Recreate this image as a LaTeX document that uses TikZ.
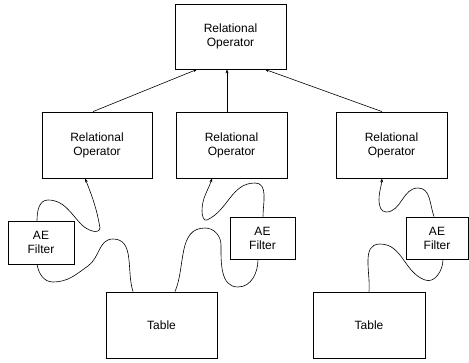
\documentclass[tikz,border=0pt]{standalone}
\usepackage{fontspec}
\setmainfont{Liberation Sans}
\usetikzlibrary{arrows.meta}
\begin{document}
\begin{tikzpicture}[x=1pt,y=-1pt,
  box/.style={draw,line width=0.8pt,inner sep=0pt,align=center,
    font=\fontsize{12}{14}\selectfont},
  link/.style={line width=0.6pt},
  feed/.style={link,-{Stealth[length=4pt,width=3pt]}}]
\useasboundingbox (0,0) rectangle (469,362);

% operator tree
\node[box,minimum width=111pt,minimum height=65pt] (top) at (230.5,36.5) {Relational\\Operator};
\node[box,minimum width=110pt,minimum height=66pt] (lro) at (97,145) {Relational\\Operator};
\node[box,minimum width=111pt,minimum height=66pt] (mro) at (231.5,145) {Relational\\Operator};
\node[box,minimum width=111pt,minimum height=66pt] (rro) at (391.5,145) {Relational\\Operator};

% filters
\node[box,minimum width=66pt,minimum height=43pt] (lae) at (41,242.5) {AE\\Filter};
\node[box,minimum width=65pt,minimum height=42pt] (mae) at (262.5,238) {AE\\Filter};
\node[box,minimum width=62pt,minimum height=42pt] (rae) at (437,238) {AE\\Filter};

% tables
\node[box,minimum width=111pt,minimum height=66pt] (lt) at (161.5,325) {Table};
\node[box,minimum width=112pt,minimum height=66pt] (rt) at (369,325) {Table};

% straight edges up to the root
\draw[feed] ([xshift=-4pt]lro.north) -- ([xshift=-33.5pt]top.south);
\draw[feed] ([xshift=-4.5pt]mro.north) -- ([xshift=-3.5pt]top.south);
\draw[feed] ([xshift=-9.5pt]rro.north) -- ([xshift=34.5pt]top.south);

% left branch: table -> filter -> operator
\draw[link] ([xshift=-28.5pt]lt.north) to[out=108,in=0] (113,239)
  to[out=180,in=35] (88,266) to[out=215,in=0] (53,282)
  to[out=180,in=-80] ([xshift=-4pt]lae.south);
\draw[feed] ([xshift=-4pt]lae.north) to[out=90,in=180] (48,200)
  to[out=0,in=135] (82,225) to[out=-45,in=-100] (100,228)
  to[out=100,in=-68] ([xshift=-12pt]lro.south);

% middle branch
\draw[link] ([xshift=13.5pt]lt.north) to[out=67,in=180] (205,228)
  to[out=0,in=90] (221,245) to[out=-90,in=180] (238,287)
  to[out=0,in=-90] ([xshift=-4.5pt]mae.south);
\draw[feed] ([xshift=0.5pt]mae.north) to[out=90,in=0] (255,183)
  to[out=180,in=25] (207,220) to[out=205,in=-90] (202,211)
  to[out=90,in=-108] ([xshift=-19.5pt]mro.south);

% right branch
\draw[link] (rt.north) to[out=85,in=180] (380,244)
  to[out=0,in=160] (425,280) to[out=-20,in=-90] ([xshift=6pt]rae.south);
\draw[feed] ([xshift=-3pt]rae.north) to[out=110,in=0] (418,188)
  to[out=180,in=0] (386,212) to[out=180,in=-90] (379,200)
  to[out=90,in=-95] ([xshift=-9.5pt]rro.south);
\end{tikzpicture}
\end{document}
